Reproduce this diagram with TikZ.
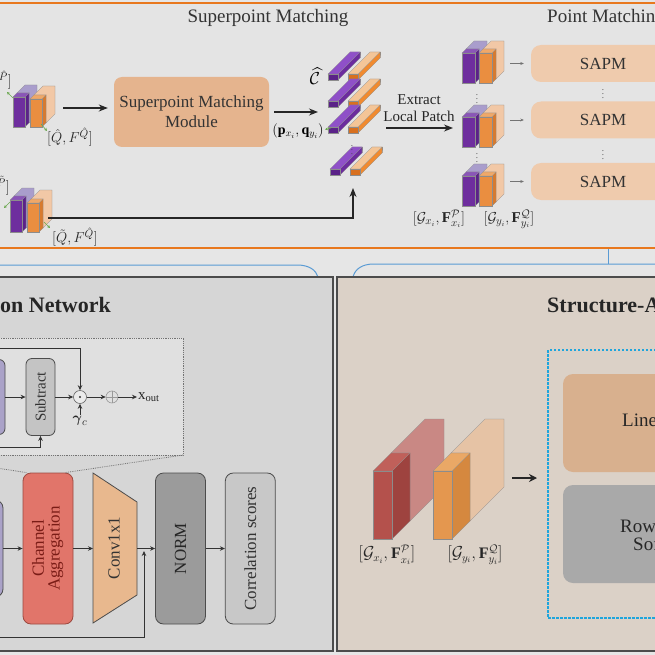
\documentclass[tikz,border=0pt]{standalone}
\usepackage{fontspec}
\setmainfont{Liberation Serif}
\usepackage{amsmath}
\usepackage{amssymb}
\usepackage{graphicx}
\usetikzlibrary{arrows.meta,positioning}

\definecolor{bgc}{HTML}{E6E6E6}
\definecolor{topc}{HTML}{E4E4E4}
\definecolor{orgline}{HTML}{E8781E}
\definecolor{lpc}{HTML}{D6D6D6}
\definecolor{dotc}{HTML}{E0E0E0}
\definecolor{rpc}{HTML}{DBD1C7}
\definecolor{bluec}{HTML}{5A9BD4}
\definecolor{dotblue}{HTML}{1FA5DC}
\definecolor{smmc}{HTML}{E5B48E}
\definecolor{sapmc}{HTML}{EFCBAD}
\definecolor{linc}{HTML}{D8B08E}
\definecolor{rowc}{HTML}{A9A9A9}
\definecolor{lavc}{HTML}{AAA2C8}
\definecolor{subc}{HTML}{C4C4C4}
\definecolor{chc}{HTML}{E1756A}
\definecolor{chd}{HTML}{9B4A40}
\definecolor{chtext}{HTML}{7A1C16}
\definecolor{convc}{HTML}{E8B88E}
\definecolor{normc}{HTML}{9B9B9B}
\definecolor{corrc}{HTML}{C8C8C8}
\definecolor{grnc}{HTML}{6AA84F}
% slab colours: F front, S side, T top, R rear
\definecolor{puF}{HTML}{6E2E9E}\definecolor{puS}{HTML}{5B2289}
\definecolor{puT}{HTML}{8A55B8}\definecolor{puR}{HTML}{A99DCC}
\definecolor{orF}{HTML}{EA8E40}\definecolor{orS}{HTML}{D87A2E}
\definecolor{orT}{HTML}{F0A868}\definecolor{orR}{HTML}{F2C8A6}
\definecolor{pbF}{HTML}{5A2288}\definecolor{pbS}{HTML}{6C2C9E}
\definecolor{pbT}{HTML}{8F50C8}\definecolor{pbR}{HTML}{8F50C8}
\definecolor{obF}{HTML}{D8701F}\definecolor{obS}{HTML}{F08A30}
\definecolor{obT}{HTML}{F4C597}\definecolor{obR}{HTML}{F4C597}
\definecolor{rdF}{HTML}{B4514C}\definecolor{rdS}{HTML}{9E433F}
\definecolor{rdT}{HTML}{C0605A}\definecolor{rdR}{HTML}{C98884}
\definecolor{ogF}{HTML}{E4974F}\definecolor{ogS}{HTML}{D5883F}
\definecolor{ogT}{HTML}{EAA866}\definecolor{ogR}{HTML}{E6C3A5}

% feature slab: x, y (front bottom left), width, height, front depth, full depth, colour prefix
\newcommand{\featslab}[7]{%
  \begin{scope}[shift={(#1,#2)}, draw=black!45, line width=0.3pt]
    \filldraw[fill=#7R] (#5,{-#4-#5}) -- (#6,{-#4-#6}) -- ({#3+#6},{-#4-#6}) -- ({#3+#6},-#6)
      -- ({#3+#5},-#5) -- ({#3+#5},{-#4-#5}) -- cycle;
    \filldraw[fill=#7S] (#3,0) -- ({#3+#5},-#5) -- ({#3+#5},{-#4-#5}) -- (#3,-#4) -- cycle;
    \filldraw[fill=#7T] (0,-#4) -- (#3,-#4) -- ({#3+#5},{-#4-#5}) -- (#5,{-#4-#5}) -- cycle;
    \filldraw[fill=#7F] (0,0) rectangle (#3,-#4);
  \end{scope}}

\begin{document}
\begin{tikzpicture}[x=1pt, y=-1pt,
    arr/.style={-{Stealth[length=9pt, width=7pt]}, line width=1.3pt, black!85},
    thinarr/.style={-{Stealth[length=5pt, width=4.5pt]}, line width=0.8pt, black!80},
    grnarr/.style={-{Stealth[length=3pt, width=3pt]}, line width=0.6pt, grnc},
    gryarr/.style={-{Stealth[length=3.5pt, width=3pt]}, line width=0.5pt, black!55},
    ttl/.style={font=\fontsize{19}{22}\selectfont, text=black!80, inner sep=0pt},
    bttl/.style={font=\fontsize{22}{26}\selectfont\bfseries, text=black!85, inner sep=0pt},
    lbl/.style={font=\fontsize{15}{18}\selectfont, inner sep=1pt, text=black!85},
    sapm/.style={rectangle, rounded corners=10pt, fill=sapmc, minimum width=144pt, minimum height=37pt, font=\fontsize{17}{20}\selectfont, text=black!80},
    vbox/.style={rectangle, rounded corners=8pt, draw=black!70, line width=0.8pt, minimum width=50pt, minimum height=151pt, inner sep=0pt, font=\fontsize{17}{15}\selectfont, text=black!80},
    bigbox/.style={rectangle, rounded corners=10pt, minimum width=154pt, minimum height=98pt},
    dotsn/.style={font=\fontsize{9}{10}\selectfont, inner sep=0pt, text=black!70}
  ]
  \useasboundingbox (0,0) rectangle (655,655);
  \clip (0,0) rectangle (655,655);
  \fill[bgc] (0,0) rectangle (655,655);

  % superpoint / point matching strip
  \filldraw[fill=topc, draw=orgline, line width=2pt] (-10,3) rectangle (665,248);
  \node[ttl] (tsm) at (268,18) {Superpoint Matching};
  \node[ttl, anchor=west] (tpm) at (547,18) {Point Matching};

  \featslab{13}{127}{12}{30}{4}{12}{pu}
  \featslab{30}{127}{12}{28}{4}{13}{or}
  \featslab{10}{232}{12}{32}{4}{12}{pu}
  \featslab{27}{232}{12}{29}{4}{13}{or}
  \node[lbl, anchor=east] (ph) at (13,80) {$[\hat{P},F^{\hat{P}}]$};
  \node[lbl] (qh) at (70,137) {$[\hat{Q},F^{\hat{Q}}]$};
  \node[lbl, anchor=east] (pt) at (11,186) {$[\tilde{P},F^{\tilde{P}}]$};
  \node[lbl] (qt) at (75,237) {$[\tilde{Q},F^{\hat{Q}}]$};
  \coordinate (gA1) at (13,98); \coordinate (gA2) at (7,92);
  \coordinate (gB1) at (41,124); \coordinate (gB2) at (47,131);
  \coordinate (gC1) at (10,202); \coordinate (gC2) at (4,208);
  \coordinate (gD1) at (44,222); \coordinate (gD2) at (50,228);
  \draw[grnarr] (gA1) -- (gA2);
  \draw[grnarr] (gB1) -- (gB2);
  \draw[grnarr] (gC1) -- (gC2);
  \draw[grnarr] (gD1) -- (gD2);

  \node[rectangle, rounded corners=8pt, fill=smmc, minimum width=155pt, minimum height=70pt,
        align=center, font=\fontsize{17}{20}\selectfont, text=black!80] (smm) at (191.5,112)
        {Superpoint Matching\\Module};
  \coordinate (blkA) at (63,108);
  \draw[arr, shorten >=6pt] (blkA) -- (smm.west |- blkA);
  \coordinate (barIn) at (318,112);
  \draw[arr, shorten <=5pt] (smm.east) -- (barIn);
  \node[font=\fontsize{14}{16}\selectfont, inner sep=0pt] (pq) at (298,131) {$(\mathbf{p}_{x_i},\mathbf{q}_{y_i})$};
  \node[font=\fontsize{19}{22}\selectfont, inner sep=0pt] (chat) at (315,76) {$\widehat{\mathcal{C}}$};

  % correspondence bars
  \featslab{328}{80}{10}{6}{22}{22}{pb}
  \featslab{348}{80}{10}{6}{22}{22}{ob}
  \featslab{328}{107}{10}{6}{22}{22}{pb}
  \featslab{348}{107}{10}{6}{22}{22}{ob}
  \featslab{328}{133}{10}{6}{22}{22}{pb}
  \featslab{348}{133}{10}{6}{22}{22}{ob}
  \featslab{330}{175}{10}{6}{22}{22}{pb}
  \featslab{350}{175}{10}{6}{22}{22}{ob}
  \node[dotsn] (bd) at (352,147) {$\vdots$};
  \coordinate (pqA) at (331,128); \coordinate (pqB) at (325,129.5);
  \draw[grnarr] (pqA) -- (pqB);

  \coordinate (blkB) at (48,218);
  \coordinate (barB) at (353,188);
  \draw[arr, line width=1.1pt] (blkB) -| (barB);

  \coordinate (patIn) at (386,128);
  \coordinate (patOut) at (453,128);
  \draw[arr] (patIn) -- (patOut);
  \node[align=center, font=\fontsize{15}{17}\selectfont, text=black!85] (ext) at (419,108) {Extract\\Local Patch};

  % local patches
  \featslab{462}{83}{13}{30}{4}{12}{pu}
  \featslab{479}{83}{13}{30}{4}{12}{or}
  \featslab{462}{147}{13}{30}{4}{12}{pu}
  \featslab{479}{147}{13}{30}{4}{12}{or}
  \featslab{462}{206}{13}{30}{4}{12}{pu}
  \featslab{479}{206}{13}{30}{4}{12}{or}
  \node[dotsn] (pd1) at (477,96) {$\vdots$};
  \node[dotsn] (pd2) at (477,155) {$\vdots$};
  \node[lbl] (gx) at (439,219) {$[\mathcal{G}_{x_i},\mathbf{F}^{\mathcal{P}}_{x_i}]$};
  \node[lbl] (gy) at (509,219) {$[\mathcal{G}_{y_i},\mathbf{F}^{\mathcal{Q}}_{y_i}]$};

  \node[sapm] (sapm1) at (603,63.5) {SAPM};
  \node[sapm] (sapm2) at (603,120) {SAPM};
  \node[sapm] (sapm3) at (603,181.5) {SAPM};
  \node[dotsn] (sd1) at (603,91) {$\vdots$};
  \node[dotsn] (sd2) at (603,152) {$\vdots$};
  \coordinate (pa1) at (510,63.5);
  \coordinate (pa2) at (510,120);
  \coordinate (pa3) at (510,181.5);
  \draw[gryarr, shorten >=7pt] (pa1) -- (sapm1);
  \draw[gryarr, shorten >=7pt] (pa2) -- (sapm2);
  \draw[gryarr, shorten >=7pt] (pa3) -- (sapm3);

  % links to the lower panels
  \draw[bluec, line width=1pt] (-5,265) -- (297,265) .. controls (309,265) and (316,270) .. (318,277);
  \draw[bluec, line width=1pt] (353,277) .. controls (355,269) and (362,264) .. (374,264) -- (665,264);
  \draw[bluec, line width=1pt] (608,249) -- (608,264);

  % lower left panel
  \filldraw[fill=lpc, draw=black!70, line width=1.2pt] (-10,277) rectangle (333,651);
  \node[bttl, anchor=west] (nett) at (0,305) {on Network};
  \filldraw[fill=dotc, draw=black!55, densely dotted, line width=0.8pt] (-10,338) rectangle (183,455);

  \node[vbox, fill=lavc, minimum width=34pt, minimum height=75pt, rounded corners=6pt] (lav1) at (-12,397) {};
  \node[vbox, fill=subc, minimum width=29pt, minimum height=77pt, rounded corners=6pt,
        font=\fontsize{15}{17}\selectfont] (sub) at (40.5,397) {\rotatebox{90}{Subtract}};
  \node[circle, draw=black!60, fill=black!8, minimum size=13pt, inner sep=0pt, line width=0.6pt] (od) at (80,397) {};
  \fill[black!80] (od.center) circle (1.1pt);
  \node[circle, draw=black!40, minimum size=12pt, inner sep=0pt, line width=0.6pt] (op) at (112,397) {};
  \draw[black!40, line width=0.6pt] (op.north) -- (op.south) (op.west) -- (op.east);
  \node[lbl, anchor=west] (xout) at (137,397) {$\mathrm{x}_{\mathrm{out}}$};
  \node[lbl] (gam) at (80,421) {$\boldsymbol{\gamma}_{c}$};
  \coordinate (tpL) at (-5,348);
  \coordinate (btL) at (-5,447);
  \draw[thinarr] (lav1) -- (sub);
  \draw[thinarr] (sub) -- (od);
  \draw[thinarr] (od) -- (op);
  \draw[thinarr] (op) -- (xout);
  \draw[thinarr] (gam) -- (od);
  \draw[thinarr] (tpL) -| (od);
  \draw[thinarr] (btL) -| (sub);

  \node[vbox, fill=lavc, minimum width=34pt, minimum height=97pt] (lav2) at (-14,548.5) {};
  \node[vbox, fill=chc, draw=chd, text=chtext] (chagg) at (48,548.5)
        {\rotatebox{90}{\begin{tabular}{@{}c@{}}Channel\\Aggregation\end{tabular}}};
  \draw[black!55, densely dotted, line width=0.8pt] (183,455) -- ([xshift=-8pt]chagg.north east);
  \draw[black!55, densely dotted, line width=0.8pt] (-10,467) -- ([xshift=4pt]chagg.north west);
  \coordinate (cv1) at (93,473);
  \coordinate (cv2) at (137,502);
  \coordinate (cv3) at (137,595);
  \coordinate (cv4) at (93,623);
  \filldraw[fill=convc, draw=black!70, line width=0.8pt] (cv1) -- (cv2) -- (cv3) -- (cv4) -- cycle;
  \node[font=\fontsize{17}{15}\selectfont, text=black!80, inner sep=0pt] (conv) at (114,548) {\rotatebox{90}{Conv1x1}};
  \node[vbox, fill=normc, text=black!85] (norm) at (180.5,548.5) {\rotatebox{90}{NORM}};
  \node[vbox, fill=corrc, right=19pt of norm] (corr) {\rotatebox{90}{Correlation scores}};
  \coordinate (cvL) at (93,548.5);
  \coordinate (cvR) at (137,548.5);
  \coordinate (fdL) at (-5,637);
  \coordinate (fdJ) at (144,551);
  \draw[thinarr] (lav2) -- (chagg);
  \draw[thinarr] (chagg) -- (cvL);
  \draw[thinarr] (cvR) -- (norm);
  \draw[thinarr] (norm) -- (corr);
  \draw[thinarr] (fdL) -| (fdJ);

  % lower right panel
  \filldraw[fill=rpc, draw=black!70, line width=1.2pt] (337,277) rectangle (665,651);
  \node[bttl, anchor=west] (sat) at (547,305) {Structure-A};
  \featslab{373}{539}{19}{68}{18}{52}{rd}
  \featslab{433}{539}{19}{68}{18}{52}{og}
  \node[lbl, font=\fontsize{16}{18}\selectfont] (rgx) at (387,555) {$[\mathcal{G}_{x_i},\mathbf{F}^{\mathcal{P}}_{x_i}]$};
  \node[lbl, font=\fontsize{16}{18}\selectfont] (rgy) at (475,555) {$[\mathcal{G}_{y_i},\mathbf{F}^{\mathcal{Q}}_{y_i}]$};
  \node[draw=dotblue, dashed, dash pattern=on 2.5pt off 1.5pt, line width=1.6pt,
        minimum width=130pt, minimum height=268pt] (satt) at (613,484) {};
  \node[bigbox, fill=linc] (lin) at (640,423) {};
  \node[bigbox, fill=rowc] (rsm) at (640,534) {};
  \node[font=\fontsize{19}{22}\selectfont, text=black!85, anchor=west, inner sep=0pt] (linl) at (622,420) {Line};
  \node[font=\fontsize{19}{18}\selectfont, text=black!85, anchor=west, inner sep=0pt, align=left] (rsml) at (620,535) {Row\\\hspace*{13pt}Sof};
  \coordinate (sbOut) at (512,478);
  \coordinate (sbIn) at (537,478);
  \draw[-{Stealth[length=8pt, width=8pt]}, line width=2.6pt, black!85] (sbOut) -- (sbIn);
\end{tikzpicture}
\end{document}
